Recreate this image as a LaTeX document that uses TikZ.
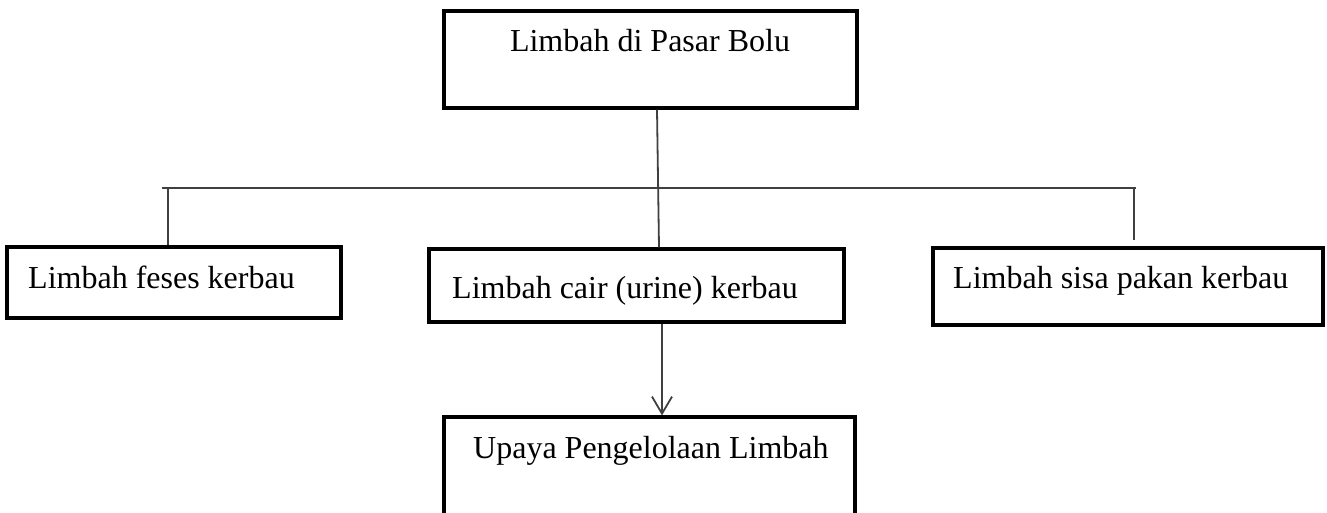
\documentclass[tikz,border=0pt]{standalone}
\usepackage{fontspec}
\setmainfont{Liberation Serif}
\usetikzlibrary{arrows.meta}
\definecolor{linegray}{HTML}{404040}
\tikzset{
  box/.style={draw=black, line width=3.2pt, rectangle, inner sep=0pt},
  txt/.style={font=\fontsize{32}{38}\selectfont, inner sep=0pt},
  conn/.style={draw=linegray, line width=1.8pt},
}
\begin{document}
\begin{tikzpicture}[x=1pt,y=-1pt]
\useasboundingbox (0,0) rectangle (1327,513);
\clip (0,0) rectangle (1327,513);
% boxes
\node[box, minimum width=413pt, minimum height=97pt] (top) at (650.5,59.5) {};
\node[box, minimum width=334pt, minimum height=71pt] (feses) at (174,282.5) {};
\node[box, minimum width=415pt, minimum height=73pt] (cair) at (636.5,285.5) {};
\node[box, minimum width=390pt, minimum height=77pt] (sisa) at (1128,286.5) {};
\node[box, minimum width=411pt, minimum height=140pt] (upaya) at (649.5,487) {};
% texts
\node[txt, anchor=base] (ttop) at (650,52) {Limbah di Pasar Bolu};
\node[txt, anchor=base west] (tfeses) at (28,288) {Limbah feses kerbau};
\node[txt, anchor=base west] (tcair) at (452,298) {Limbah cair (urine) kerbau};
\node[txt, anchor=base west] (tsisa) at (953,288) {Limbah sisa pakan kerbau};
\node[txt, anchor=base west] (tupaya) at (473,458) {Upaya Pengelolaan Limbah};
% connector coordinates
\coordinate (hl) at (162,188);
\coordinate (hr) at (1136,188);
\coordinate (dl) at (168,188);
\coordinate (dle) at (168,245);
\coordinate (dr) at (1134,188);
\coordinate (dre) at (1134,240);
\coordinate (ms) at (top.south -| 657,0);
\coordinate (me) at (cair.north -| 659,0);
\coordinate (as) at (cair.south -| 662,0);
\coordinate (ae) at (upaya.north -| 662,0);
% connectors
\draw[conn] (hl) -- (hr);
\draw[conn] (dl) -- (dle);
\draw[conn] (dr) -- (dre);
\draw[conn] (ms) -- (me);
\draw[conn, -{Straight Barb[length=17pt,width=20pt,line width=1.8pt]}] (as) -- (ae);
\end{tikzpicture}
\end{document}
